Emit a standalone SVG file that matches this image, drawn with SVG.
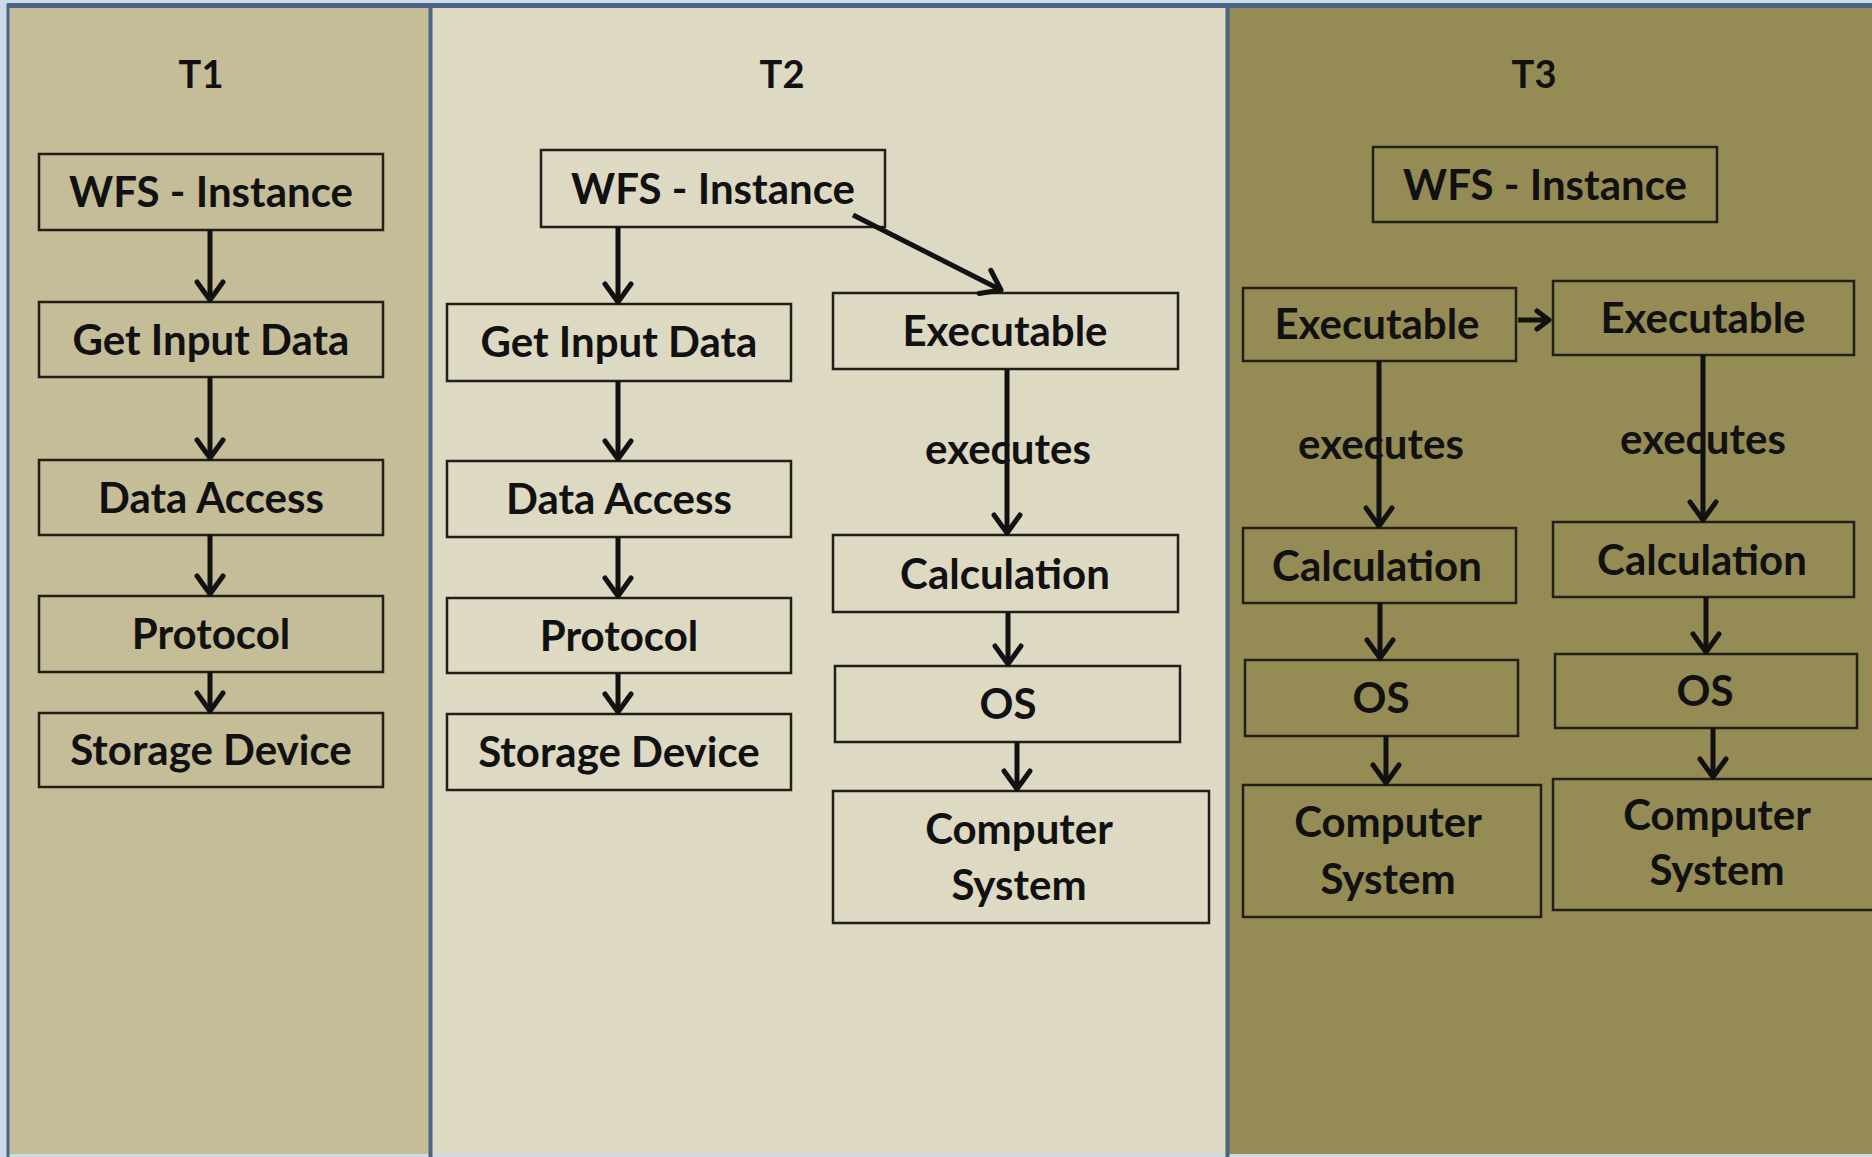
<svg xmlns="http://www.w3.org/2000/svg" width="1872" height="1157" viewBox="0 0 1872 1157">
  <style>
    .frame { stroke: #4a6483; fill: none; }
    .box { stroke: #221e18; stroke-width: 2.5; fill: none; }
    .lbl { font-family: Lato, "Open Sans", "Liberation Sans", sans-serif; font-weight: 700; font-size: 42px; fill: #111; text-anchor: middle; }
    .title { font-family: Lato, "Open Sans", "Liberation Sans", sans-serif; font-weight: 700; font-size: 38px; fill: #111; text-anchor: middle; }
    .conn line { stroke: #111; stroke-width: 5; fill: none; }
  </style>
  <defs>
    <marker id="ah" markerUnits="userSpaceOnUse" markerWidth="48" markerHeight="48" viewBox="-24 -24 48 48" refX="0" refY="0" orient="auto">
      <path d="M-18,-13 L0,0 L-18,13" fill="none" stroke="#111" stroke-width="5" stroke-linecap="round" stroke-linejoin="round"/>
    </marker>
    <marker id="ahs" markerUnits="userSpaceOnUse" markerWidth="32" markerHeight="32" viewBox="-16 -16 32 32" refX="0" refY="0" orient="auto">
      <path d="M-12,-9 L0,0 L-12,9" fill="none" stroke="#111" stroke-width="5" stroke-linecap="round" stroke-linejoin="round"/>
    </marker>
  </defs>

  <!-- background and the three columns -->
  <rect x="0" y="0" width="1872" height="1157" fill="#cbdae6"/>
  <rect x="9" y="8" width="421" height="1146" fill="#c4bd97"/>
  <rect x="432" y="8" width="795" height="1146" fill="#ddd9c3"/>
  <rect x="1229" y="8" width="643" height="1146" fill="#958b55"/>
  <line class="frame" x1="7" y1="5.5" x2="1872" y2="5.5" stroke-width="5"/>
  <line class="frame" x1="8" y1="4" x2="8" y2="1157" stroke-width="3"/>
  <line class="frame" x1="430.5" y1="4" x2="430.5" y2="1157" stroke-width="4"/>
  <line class="frame" x1="1227.5" y1="4" x2="1227.5" y2="1157" stroke-width="4"/>

  <text class="title" x="201" y="88">T1</text>
  <text class="title" x="782" y="88">T2</text>
  <text class="title" x="1534" y="88">T3</text>

  <!-- T1 column -->
  <g id="t1-wfs"><rect class="box" x="39" y="154" width="344" height="76"/><text class="lbl" x="211" y="207">WFS - Instance</text></g>
  <g id="t1-input"><rect class="box" x="39" y="302" width="344" height="75"/><text class="lbl" x="211" y="355">Get Input Data</text></g>
  <g id="t1-access"><rect class="box" x="39" y="460" width="344" height="75"/><text class="lbl" x="211" y="513">Data Access</text></g>
  <g id="t1-protocol"><rect class="box" x="39" y="596" width="344" height="76"/><text class="lbl" x="211" y="649">Protocol</text></g>
  <g id="t1-storage"><rect class="box" x="39" y="713" width="344" height="74"/><text class="lbl" x="211" y="765">Storage Device</text></g>

  <!-- T2 column -->
  <g id="t2-wfs"><rect class="box" x="541" y="150" width="344" height="77"/><text class="lbl" x="713" y="204">WFS - Instance</text></g>
  <g id="t2-input"><rect class="box" x="447" y="304" width="344" height="77"/><text class="lbl" x="619" y="357">Get Input Data</text></g>
  <g id="t2-access"><rect class="box" x="447" y="461" width="344" height="76"/><text class="lbl" x="619" y="514">Data Access</text></g>
  <g id="t2-protocol"><rect class="box" x="447" y="598" width="344" height="75"/><text class="lbl" x="619" y="651">Protocol</text></g>
  <g id="t2-storage"><rect class="box" x="447" y="714" width="344" height="76"/><text class="lbl" x="619" y="767">Storage Device</text></g>
  <g id="t2-exec"><rect class="box" x="833" y="293" width="345" height="76"/><text class="lbl" x="1005" y="346">Executable</text></g>
  <g id="t2-calc"><rect class="box" x="833" y="535" width="345" height="77"/><text class="lbl" x="1005" y="589">Calculation</text></g>
  <g id="t2-os"><rect class="box" x="835" y="666" width="345" height="76"/><text class="lbl" x="1008" y="719">OS</text></g>
  <g id="t2-computer"><rect class="box" x="833" y="791" width="376" height="132"/><text class="lbl" x="1019" y="844">Computer</text><text class="lbl" x="1019" y="900">System</text></g>

  <!-- T3 column -->
  <g id="t3-wfs"><rect class="box" x="1373" y="147" width="344" height="75"/><text class="lbl" x="1545" y="200">WFS - Instance</text></g>
  <g id="t3-exec-a"><rect class="box" x="1243" y="288" width="273" height="73"/><text class="lbl" x="1377" y="339">Executable</text></g>
  <g id="t3-exec-b"><rect class="box" x="1553" y="281" width="301" height="74"/><text class="lbl" x="1703" y="333">Executable</text></g>
  <g id="t3-calc-a"><rect class="box" x="1243" y="528" width="273" height="75"/><text class="lbl" x="1377" y="581">Calculation</text></g>
  <g id="t3-calc-b"><rect class="box" x="1553" y="522" width="301" height="75"/><text class="lbl" x="1702" y="575">Calculation</text></g>
  <g id="t3-os-a"><rect class="box" x="1245" y="660" width="273" height="76"/><text class="lbl" x="1381" y="713">OS</text></g>
  <g id="t3-os-b"><rect class="box" x="1555" y="654" width="302" height="74"/><text class="lbl" x="1705" y="706">OS</text></g>
  <g id="t3-computer-a"><rect class="box" x="1243" y="785" width="298" height="132"/><text class="lbl" x="1388" y="837">Computer</text><text class="lbl" x="1388" y="894">System</text></g>
  <g id="t3-computer-b"><rect class="box" x="1553" y="779" width="330" height="131"/><text class="lbl" x="1717" y="830">Computer</text><text class="lbl" x="1717" y="885">System</text></g>

  <!-- edge labels -->
  <text class="lbl" x="1008" y="464">executes</text>
  <text class="lbl" x="1381" y="459">executes</text>
  <text class="lbl" x="1703" y="454">executes</text>

  <!-- connectors -->
  <g id="connectors" class="conn">
    <line x1="210" y1="230" x2="210" y2="300" marker-end="url(#ah)"/>
    <line x1="210" y1="377" x2="210" y2="458" marker-end="url(#ah)"/>
    <line x1="210" y1="535" x2="210" y2="594" marker-end="url(#ah)"/>
    <line x1="210" y1="672" x2="210" y2="711" marker-end="url(#ah)"/>

    <line x1="618" y1="227" x2="618" y2="302" marker-end="url(#ah)"/>
    <line x1="618" y1="381" x2="618" y2="459" marker-end="url(#ah)"/>
    <line x1="618" y1="537" x2="618" y2="596" marker-end="url(#ah)"/>
    <line x1="618" y1="673" x2="618" y2="712" marker-end="url(#ah)"/>

    <line x1="853" y1="215" x2="1001" y2="290" marker-end="url(#ah)"/>
    <line x1="1007" y1="369" x2="1007" y2="533" marker-end="url(#ah)"/>
    <line x1="1008" y1="612" x2="1008" y2="664" marker-end="url(#ah)"/>
    <line x1="1017" y1="742" x2="1017" y2="789" marker-end="url(#ah)"/>

    <line x1="1518" y1="320" x2="1549" y2="320" marker-end="url(#ahs)"/>
    <line x1="1379" y1="361" x2="1379" y2="526" marker-end="url(#ah)"/>
    <line x1="1380" y1="603" x2="1380" y2="658" marker-end="url(#ah)"/>
    <line x1="1386" y1="736" x2="1386" y2="783" marker-end="url(#ah)"/>
    <line x1="1703" y1="355" x2="1703" y2="520" marker-end="url(#ah)"/>
    <line x1="1706" y1="597" x2="1706" y2="652" marker-end="url(#ah)"/>
    <line x1="1713" y1="728" x2="1713" y2="777" marker-end="url(#ah)"/>
  </g>
</svg>
